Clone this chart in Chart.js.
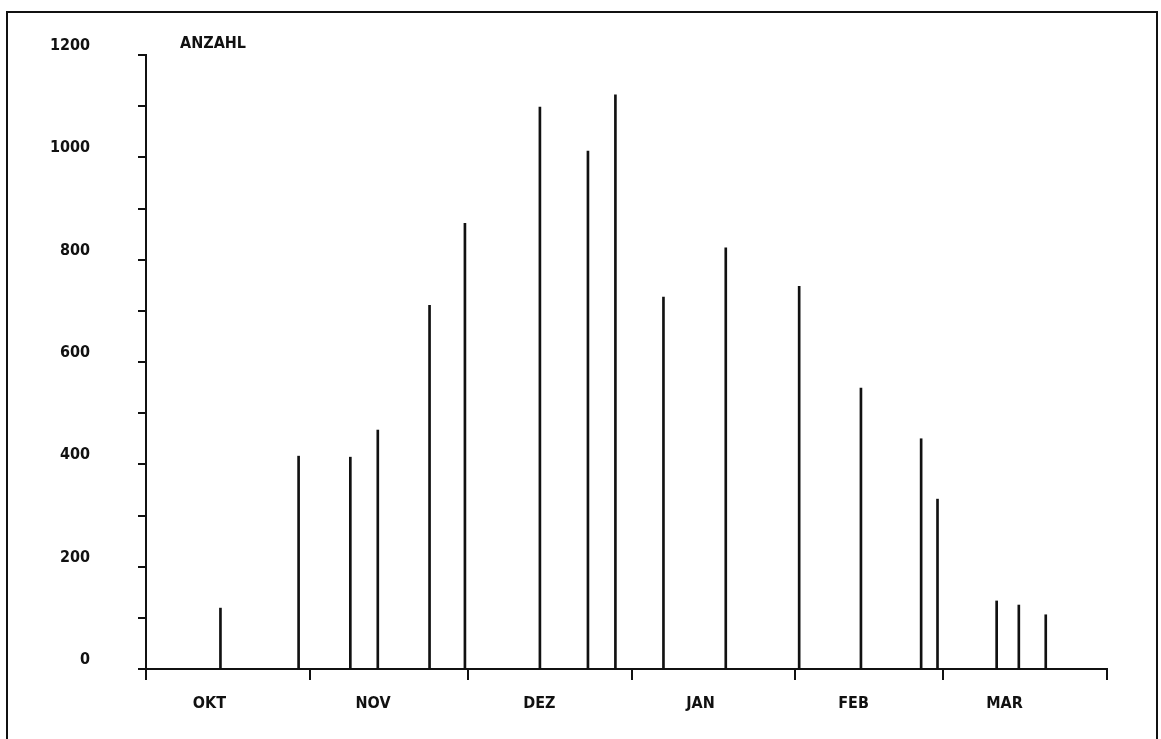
<!DOCTYPE html>
<html lang="de">
<head>
    <meta charset="UTF-8">
    <title>Anzahl je Monat</title>
    <script src="https://cdn.jsdelivr.net/npm/chart.js"></script>
    <style>
        body {
            margin: 0;
            background: #ffffff;
            width: 1161px;
            height: 739px;
            overflow: hidden;
            position: relative;
        }

        .frame {
            position: absolute;
            left: 6px;
            top: 11px;
            width: 1152px;
            height: 745px;
            border: 2px solid #111;
            box-sizing: border-box;
        }

        #chart {
            position: absolute;
            left: 0;
            top: 0;
        }
    </style>
</head>
<body>
    <div class="frame"></div>
    <canvas id="chart" width="1161" height="739"></canvas>

    <script>
        // days counted from 1 Oct
        const monthNames = ['OKT', 'NOV', 'DEZ', 'JAN', 'FEB', 'MAR'];
        const monthStarts = [0, 31, 61, 92, 123, 151, 182];
        const monthLabelDays = [12, 43, 74.5, 105, 134, 162.6];

        const spikeDays = [14.1, 28.9, 38.7, 43.9, 53.7, 60.4, 74.6, 83.7, 88.9,
                           98.0, 109.8, 123.7, 135.4, 146.8, 149.9, 161.1, 165.3, 170.4];
        const counts = [119, 416, 414, 467, 711, 871, 1098, 1012, 1122,
                        727, 823, 748, 549, 450, 332, 133, 125, 106];

        const yMax = 1200;
        const yStep = 100;
        const yLabelEvery = 200;
        const axisTitle = 'ANZAHL';

        const ink = '#111';
        const font = { family: 'DejaVu Sans Condensed', size: 16, weight: 'bold' };

        const titlePlugin = {
            id: 'anzahl',
            afterDraw(chart) {
                const { ctx, chartArea } = chart;
                ctx.save();
                ctx.fillStyle = ink;
                ctx.font = `bold ${font.size}px "${font.family}"`;
                ctx.textAlign = 'left';
                ctx.textBaseline = 'middle';
                ctx.fillText(axisTitle, chartArea.left + 34, chartArea.top - 11);
                ctx.restore();
            }
        };

        new Chart(document.getElementById('chart'), {
            type: 'bar',
            data: {
                datasets: [{
                    data: spikeDays.map((d, i) => ({ x: d, y: counts[i] })),
                    backgroundColor: ink,
                    borderWidth: 0,
                    barThickness: 2
                }]
            },
            options: {
                responsive: false,
                animation: false,
                layout: { padding: { left: 0, top: 55, right: 54, bottom: 0 } },
                plugins: {
                    legend: { display: false },
                    tooltip: { enabled: false }
                },
                scales: {
                    x: {
                        type: 'linear',
                        position: 'bottom',
                        offset: false,
                        min: monthStarts[0],
                        max: monthStarts[monthStarts.length - 1],
                        afterBuildTicks: scale => {
                            scale.ticks = monthStarts.map(v => ({ value: v }));
                        },
                        afterFit: scale => {
                            scale.height = 14;
                            scale.paddingLeft = 0;
                            scale.paddingRight = 0;
                        },
                        ticks: { autoSkip: false, callback: () => '' },
                        grid: { offset: false, drawOnChartArea: false, tickLength: 11, lineWidth: 2, color: ink },
                        border: { color: ink, width: 2 }
                    },
                    months: {
                        type: 'linear',
                        position: 'bottom',
                        offset: false,
                        min: monthStarts[0],
                        max: monthStarts[monthStarts.length - 1],
                        afterBuildTicks: scale => {
                            scale.ticks = monthLabelDays.map(v => ({ value: v }));
                        },
                        afterFit: scale => {
                            scale.height = 56;
                            scale.paddingLeft = 0;
                            scale.paddingRight = 0;
                        },
                        ticks: {
                            autoSkip: false,
                            maxRotation: 0,
                            padding: 3,
                            color: ink,
                            font: font,
                            callback: (v, i) => monthNames[i]
                        },
                        grid: { display: false, offset: false },
                        border: { display: false }
                    },
                    y: {
                        min: 0,
                        max: yMax,
                        afterFit: scale => {
                            scale.width = 146;
                            scale.paddingTop = 0;
                            scale.paddingBottom = 0;
                        },
                        ticks: {
                            stepSize: yStep,
                            autoSkip: false,
                            padding: 48,
                            labelOffset: -9,
                            color: ink,
                            font: font,
                            callback: v => (v % yLabelEvery === 0 ? v : '')
                        },
                        grid: { drawOnChartArea: false, tickLength: 8, lineWidth: 2, color: ink },
                        border: { color: ink, width: 2 }
                    }
                }
            },
            plugins: [titlePlugin]
        });
    </script>
</body>
</html>
